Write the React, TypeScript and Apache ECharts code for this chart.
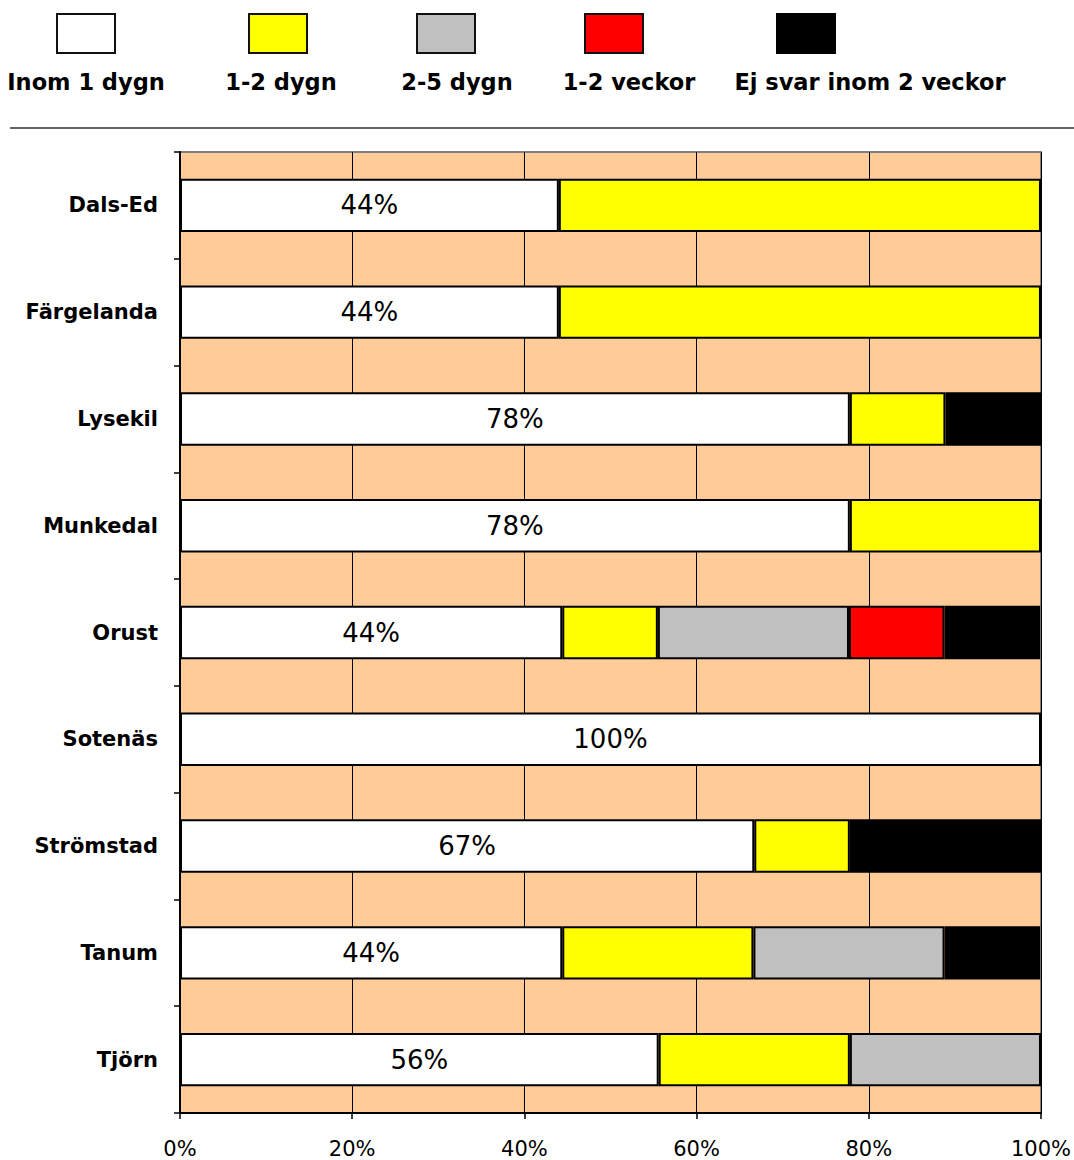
import React, { useEffect, useRef } from "react";
import * as echarts from "echarts";

const categories = ["Dals-Ed", "Färgelanda", "Lysekil", "Munkedal", "Orust", "Sotenäs", "Strömstad", "Tanum", "Tjörn"];
const seriesNames = ["Inom 1 dygn", "1-2 dygn", "2-5 dygn", "1-2 veckor", "Ej svar inom 2 veckor"];
const seriesColors = ["#FFFFFF", "#FFFF00", "#C0C0C0", "#FF0000", "#000000"];
const inom1 = [44, 44, 77.8, 77.8, 44.4, 100, 66.7, 44.4, 55.6];
const dygn12 = [56, 56, 11.1, 22.2, 11.1, 0, 11.1, 22.2, 22.2];
const dygn25 = [0, 0, 0, 0, 22.2, 0, 0, 22.2, 22.2];
const veckor12 = [0, 0, 0, 0, 11.1, 0, 0, 0, 0];
const ejSvar = [0, 0, 11.1, 0, 11.1, 0, 22.2, 11.1, 0];
const xTicks = [0, 20, 40, 60, 80, 100];

const seriesValues = [inom1, dygn12, dygn25, veckor12, ejSvar];
const legendSquareX = [56, 248, 416, 584, 776];
const legendLabelX = [86, 281, 457, 629, 870];

export default function App() {
  const ref = useRef<HTMLDivElement>(null);
  useEffect(() => {
    if (!ref.current) return;
    const chart = echarts.init(ref.current, null, { renderer: "svg" });
    const graphic: any[] = [];
    seriesNames.forEach((name, i) => {
      graphic.push({
        type: "rect",
        left: legendSquareX[i],
        top: 13,
        shape: { width: 58, height: 39 },
        style: { fill: seriesColors[i], stroke: i === 4 ? "#000" : "#111", lineWidth: 2 },
      });
      graphic.push({
        type: "text",
        x: legendLabelX[i],
        y: 82,
        style: {
          text: name,
          fill: "#000",
          font: "bold 22.5px 'DejaVu Sans'",
          textAlign: "center",
          textVerticalAlign: "middle",
        },
      });
    });
    graphic.push({
      type: "line",
      shape: { x1: 10, y1: 128, x2: 1074, y2: 128 },
      style: { stroke: "#333", lineWidth: 1.5 },
    });

    chart.setOption({
      animation: false,
      backgroundColor: "#FFFFFF",
      graphic,
      grid: {
        left: 180,
        right: 32,
        top: 152,
        bottom: 47,
        show: true,
        backgroundColor: "#FFCC99",
        borderColor: "#808080",
        borderWidth: 2,
        containLabel: false,
      },
      xAxis: {
        type: "value",
        min: xTicks[0],
        max: xTicks[xTicks.length - 1],
        interval: 20,
        axisLine: { show: true, lineStyle: { color: "#000", width: 2 } },
        axisTick: { show: true, length: 6, lineStyle: { color: "#000", width: 1.5 } },
        splitLine: { show: true, lineStyle: { color: "#000", width: 1 } },
        axisLabel: {
          formatter: "{value}%",
          color: "#000",
          fontFamily: "DejaVu Sans",
          fontSize: 21,
          margin: 25,
        },
      },
      yAxis: {
        type: "category",
        data: categories,
        inverse: true,
        axisLine: { show: true, lineStyle: { color: "#000", width: 2 } },
        axisTick: { show: true, length: 6, lineStyle: { color: "#000", width: 1.5 } },
        axisLabel: {
          color: "#000",
          fontFamily: "DejaVu Sans",
          fontWeight: "bold",
          fontSize: 21,
          margin: 22,
        },
      },
      series: seriesNames.map((name, i) => ({
        name,
        type: "bar",
        stack: "total",
        barWidth: "50%",
        data: seriesValues[i].map((v) => (v === 0 ? "-" : v)),
        itemStyle: { color: seriesColors[i], borderColor: "#000", borderWidth: 2 },
        label:
          i === 0
            ? {
                show: true,
                position: "inside",
                formatter: (p: any) => Math.round(p.value) + "%",
                color: "#000",
                fontFamily: "DejaVu Sans",
                fontSize: 26,
              }
            : { show: false },
      })),
    });
    return () => chart.dispose();
  }, []);
  return <div ref={ref} style={{ position: "absolute", left: 0, top: 0, width: 1074, height: 1160 }} />;
}
